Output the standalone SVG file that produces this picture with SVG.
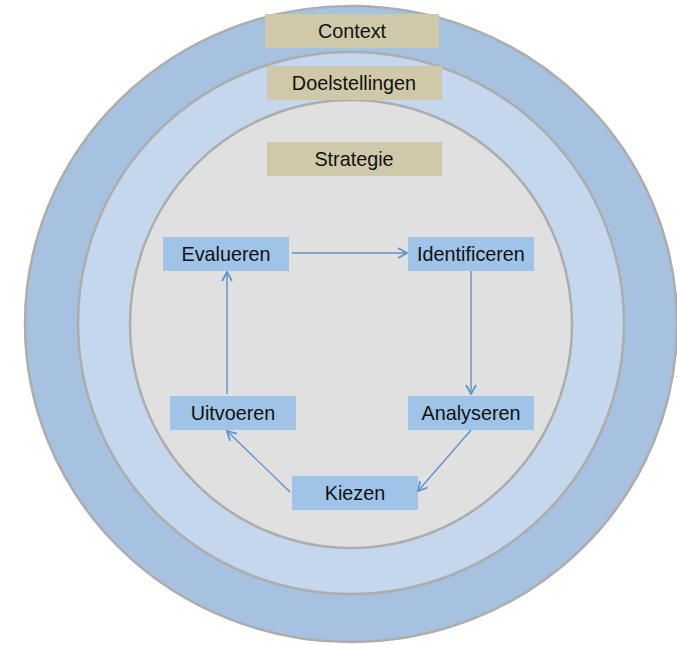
<svg xmlns="http://www.w3.org/2000/svg" width="677" height="645" viewBox="0 0 677 645">
<style>
.ring{stroke:#ADADAD;stroke-width:2.5}
.lvl{fill:#CFC9A9}
.box{fill:#9FC4E8}
text{font-family:"Liberation Sans",Arial,sans-serif;font-size:19.8px;fill:#111;text-anchor:middle}
.con{stroke:#5E93CC;stroke-width:1.4;fill:none;marker-end:url(#ah)}
</style>
<defs>
<marker id="ah" viewBox="0 0 12 12" refX="11" refY="6" markerWidth="12" markerHeight="12" markerUnits="userSpaceOnUse" orient="auto">
<path d="M2,1 L11,6 L2,11" fill="none" stroke="#5E93CC" stroke-width="1.8"/>
</marker>
</defs>
<rect width="677" height="645" fill="#fff"/>
<g id="rings">
<ellipse class="ring" cx="351" cy="324" rx="326" ry="318" fill="#A7C1E0"/>
<ellipse class="ring" cx="351" cy="323" rx="273" ry="271" fill="#C4D7EC"/>
<ellipse class="ring" cx="351" cy="324" rx="221" ry="224" fill="#E0E0E0"/>
</g>
<g id="context"><rect class="lvl" x="265" y="14" width="174" height="34"/><text x="352" y="38">Context</text></g>
<g id="doelstellingen"><rect class="lvl" x="267" y="66" width="175" height="34"/><text x="354" y="90">Doelstellingen</text></g>
<g id="strategie"><rect class="lvl" x="267" y="142" width="175" height="34"/><text x="354" y="166">Strategie</text></g>
<g id="evalueren"><rect class="box" x="163" y="237" width="126" height="34"/><text x="226" y="261">Evalueren</text></g>
<g id="identificeren"><rect class="box" x="408" y="237" width="126" height="34"/><text x="471" y="261">Identificeren</text></g>
<g id="uitvoeren"><rect class="box" x="170" y="396" width="126" height="34"/><text x="233" y="420">Uitvoeren</text></g>
<g id="analyseren"><rect class="box" x="408" y="396" width="126" height="34"/><text x="471" y="420">Analyseren</text></g>
<g id="kiezen"><rect class="box" x="292" y="476" width="126" height="34"/><text x="355" y="500">Kiezen</text></g>
<g id="connectors">
<line class="con" x1="292" y1="253" x2="407" y2="253"/>
<line class="con" x1="471" y1="271" x2="471" y2="394"/>
<line class="con" x1="471" y1="430" x2="418" y2="491"/>
<line class="con" x1="290" y1="492" x2="227" y2="431"/>
<line class="con" x1="227" y1="394" x2="227" y2="272"/>
</g>
</svg>
